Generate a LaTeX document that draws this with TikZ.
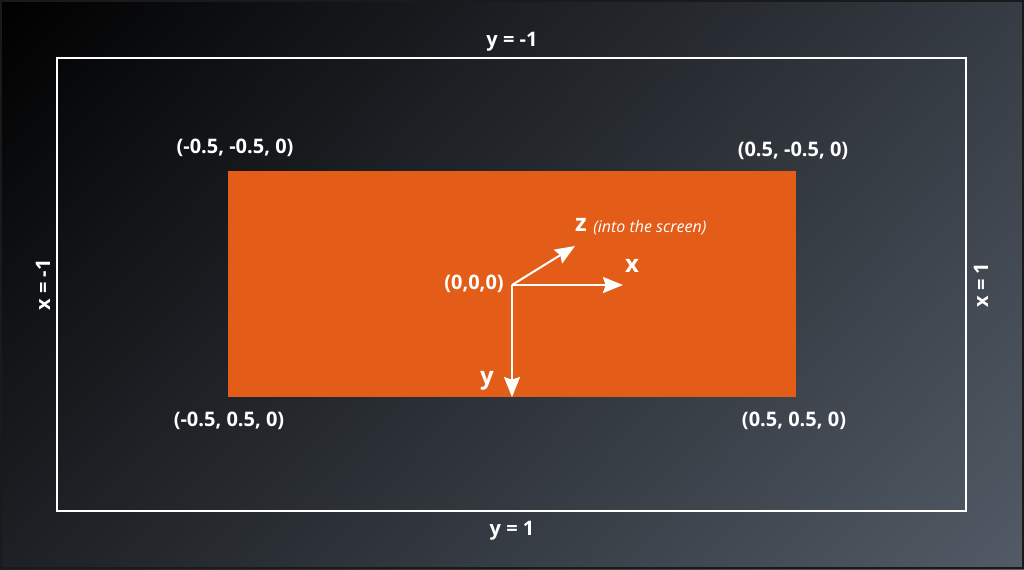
\documentclass[tikz,border=0pt]{standalone}
\usepackage{fontspec}
\setmainfont{Open Sans}
\usetikzlibrary{arrows.meta,shadings}
\definecolor{bgdark}{RGB}{0,0,0}
\definecolor{bgmidA}{RGB}{54,60,68}
\definecolor{bgmidB}{RGB}{29,32,36}
\definecolor{bglight}{RGB}{82,91,102}
\definecolor{quadorange}{RGB}{227,93,24}
\definecolor{framegray}{RGB}{26,26,26}
\tikzset{
  corner label/.style={text=white,font=\bfseries\fontsize{15}{17}\selectfont,inner sep=0.75pt},
  axis label/.style={text=white,font=\bfseries\fontsize{18}{20}\selectfont,inner sep=0.75pt},
  axis arrow/.style={draw=white,line width=1.5pt,-{Stealth[length=15pt,width=12pt,inset=2pt]}},
}
\begin{document}
\begin{tikzpicture}[x=0.75pt,y=0.75pt,yscale=-1,xscale=1]
\useasboundingbox (0,0) rectangle (1024,569);

%Shape: Background
\shade [upper left=bgdark, upper right=bgmidA, lower left=bgmidB, lower right=bglight] (0,0) rectangle (1024,569);
\draw [framegray, line width=1.5] (0.75,0.75) rectangle (1023.25,568.25);
%Shape: Clip space
\draw [white, line width=1.1pt] (57,58) rectangle (966,511);
%Shape: Quad
\fill [quadorange] (228,171) rectangle (796,397);

% Axes
\coordinate (origin) at (512,285);
\coordinate (xtip) at (623,285);
\coordinate (ytip) at (512,397);
\coordinate (ztip) at (575,246);
\draw [axis arrow] (origin) -- (xtip);
\draw [axis arrow] (origin) -- (ytip);
\draw [axis arrow] (origin) -- (ztip);

% Text Node
\node [corner label] (ytop) at (512,42) {y = -1};
% Text Node
\node [corner label] (ybot) at (512,531) {y = 1};
% Text Node
\node [corner label, rotate=90] (xleft) at (43,285) {x = -1};
% Text Node
\node [corner label, rotate=90] (xright) at (981,285) {x = 1};
% Text Node
\node [corner label] (tl) at (235,148) {(-0.5, -0.5, 0)};
% Text Node
\node [corner label] (tr) at (793,151) {(0.5, -0.5, 0)};
% Text Node
\node [corner label] (bl) at (229,421) {(-0.5, 0.5, 0)};
% Text Node
\node [corner label] (br) at (794,421) {(0.5, 0.5, 0)};
% Text Node
\node [corner label] (olabel) at (474,284) {(0,0,0)};
% Text Node
\node [axis label] (xlabel) at (632,266) {x};
% Text Node
\node [axis label] (ylabel) at (487,381) {y};
% Text Node
\node [axis label] (zlabel) at (581,225) {z};
% Text Node
\node [text=white, font=\itshape\fontsize{12}{14}\selectfont, anchor=west, inner sep=0.75pt] (zhint) at (592,228) {(into the screen)};

\end{tikzpicture}
\end{document}
